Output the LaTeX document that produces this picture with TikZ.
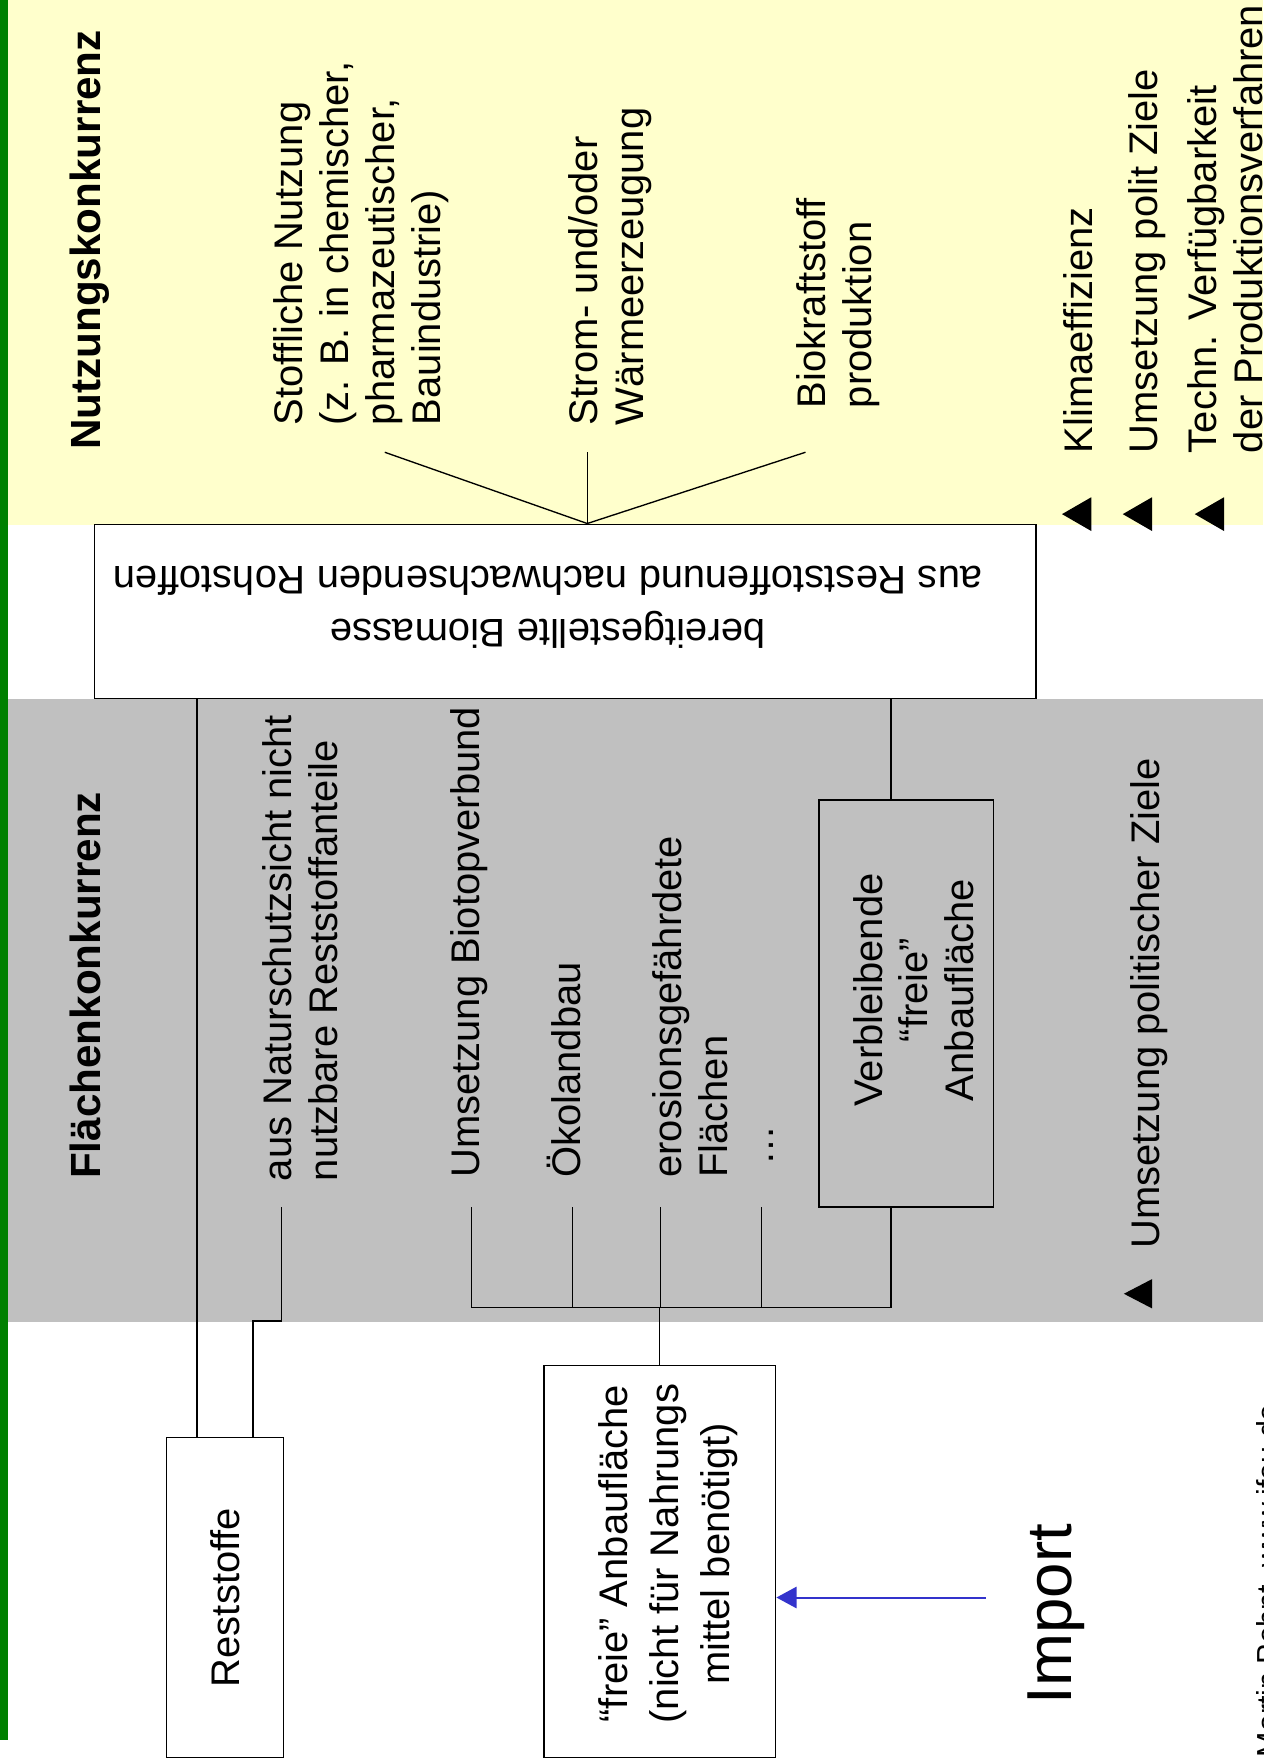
\documentclass[tikz,border=0pt]{standalone}
\usepackage{fontspec}
\setmainfont{Liberation Sans}
\usetikzlibrary{arrows.meta}
\definecolor{sun}{HTML}{FFFFCC}
\definecolor{ash}{HTML}{C0C0C0}
\definecolor{leaf}{HTML}{008000}
\definecolor{ink}{HTML}{3333CC}
\tikzset{
  frame/.style={draw=black, line width=1.3pt, inner sep=0pt, font=\fontsize{35.5}{41}\selectfont},
  wire/.style={draw=black, line width=1.2pt},
  lab/.style={rotate=90, anchor=north west, inner sep=0pt, align=left, font=\fontsize{35.5}{41}\selectfont},
  head/.style={lab, font=\fontsize{37.5}{43}\selectfont\bfseries},
  imp/.style={draw=ink, line width=1.8pt, -{Triangle[length=18pt,width=19pt]}},
}

\begin{document}
\begin{tikzpicture}[x=1pt, y=-1pt]
  \useasboundingbox (0,0) rectangle (1123,1568);
  \clip (0,0) rectangle (1123,1568);
  \fill[white] (0,0) rectangle (1123,1568);
  \fill[sun] (7,0) rectangle (1123,466.5);
  \fill[ash] (7,621) rectangle (1123,1175);
  \fill[leaf] (0,0) rectangle (7.5,1547);

  % Nutzungskonkurrenz
  \node[head] (nutz) at (62,400) {Nutzungskonkurrenz};
  \node[lab] (stoff) at (243,378) {Stoffliche Nutzung\\(z. B. in chemischer,\\pharmazeutischer,\\Bauindustrie)};
  \node[lab] (strom) at (505,378) {Strom- und/oder\\Wärmeerzeugung};
  \node[lab] (kraft) at (708,363) {Biokraftstoff\\produktion};
  \node[lab] (klima) at (945,403) {Klimaeffizienz};
  \node[lab] (polit) at (1003,403) {Umsetzung polit Ziele};
  \node[lab] (techn) at (1055,403) {Techn. Verfügbarkeit\\der Produktionsverfahren};
  \foreach \x in {944,998,1062}
    \fill (\x,457) -- ++(26,-15) -- ++(0,30) -- cycle;

  % Biomasse
  \node[frame, fill=white, minimum width=837pt, minimum height=155pt] (bio) at (502.5,543.5) {};
  \node[rotate=180, align=center, inner sep=0pt, font=\fontsize{35.5}{47}\selectfont] (biotxt) at (487,540)
    {bereitgestellte Biomasse\\aus Reststoffenund nachwachsenden Rohstoffen};
  \coordinate (f1) at (342,402);
  \coordinate (f2) at (522,402);
  \coordinate (f3) at (716,402);
  \draw[wire] (f1) -- (bio.north -| f2) -- (f3);
  \draw[wire] (f2) -- (bio.north -| f2);

  % Flaechenkonkurrenz
  \node[head] (flaech) at (62,1048) {Flächenkonkurrenz};
  \node[lab] (natur) at (233,1050) {aus Naturschutzsicht nicht\\nutzbare Reststoffanteile};
  \node[lab] (biotop) at (400,1047) {Umsetzung Biotopverbund};
  \node[lab] (oeko) at (486,1047) {Ökolandbau};
  \node[lab] (erosion) at (580,1047) {erosionsgefährdete\\Flächen\\\hspace{0.3em}…};
  \node[frame, rotate=90, minimum width=362pt, minimum height=155pt] (verb) at (805.5,892) {};
  \node[rotate=90, align=center, inner sep=0pt, font=\fontsize{35.5}{40.5}\selectfont] (verbtxt) at (812,880)
    {Verbleibende\\“freie”\\Anbaufläche};
  \node[lab] (ziele) at (1005,1110) {Umsetzung politischer Ziele};
  \fill (999,1150) -- ++(25,-13) -- ++(0,26) -- cycle;

  % untere Kaesten
  \node[frame, fill=white, rotate=90, minimum width=284pt, minimum height=104pt] (rest) at (200,1420) {Reststoffe};
  \node[frame, fill=white, rotate=90, minimum width=348pt, minimum height=206pt] (free) at (586.5,1388) {};
  \node[rotate=90, align=center, inner sep=0pt, font=\fontsize{35.5}{45}\selectfont] (freetxt) at (594,1381)
    {“freie” Anbaufläche\\(nicht für Nahrungs\\mittel benötigt)};
  \node[lab, font=\fontsize{56.5}{60}\selectfont] (import) at (913,1515) {Import};
  \node[lab, font=\fontsize{27}{30}\selectfont] (foot) at (1117,1562) {Martin Pehnt, www.ifeu.de};

  % Verbindungen
  \coordinate (n1) at (250,1073);
  \coordinate (d1) at (419,1073);
  \coordinate (d2) at (509,1073);
  \coordinate (d3) at (587,1073);
  \coordinate (d4) at (677,1073);
  \coordinate (bus) at (419,1162);
  \coordinate (imp0) at (876,1420);
  \draw[wire] ([xshift=-25pt]rest.east) -- ([xshift=-25pt]rest.east |- bio.south);
  \draw[wire] ([xshift=25pt]rest.east) -- ++(0,-103) -| (n1);
  \draw[wire] ([xshift=-13.5pt]verb.east) -- ([xshift=-13.5pt]verb.east |- bio.south);
  \draw[wire] ([xshift=-13.5pt]verb.west) |- (bus) -- (d1);
  \foreach \d in {d2,d3,d4}
    \draw[wire] (\d) -- (\d |- bus);
  \draw[wire] (free.east) -- (free.east |- bus);
  \draw[imp] (imp0) -- (imp0 -| free.south);
\end{tikzpicture}
\end{document}
